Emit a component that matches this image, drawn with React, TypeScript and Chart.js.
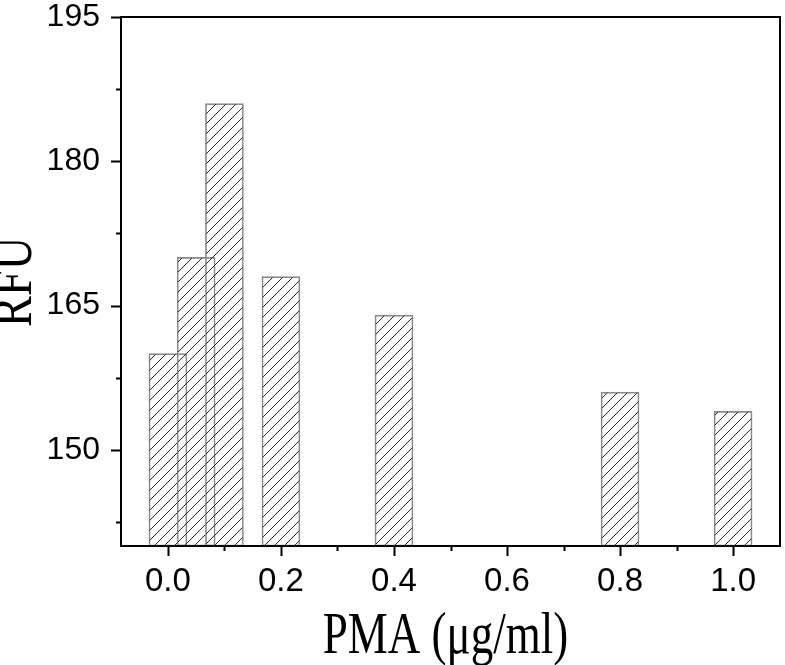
import React, { useEffect, useRef } from "react";
import { Chart, registerables } from "chart.js";
Chart.register(...registerables);

const doses = [0.0, 0.05, 0.1, 0.2, 0.4, 0.8, 1.0];
const rfu = [160, 170, 186, 168, 164, 156, 154];
const xMajorTicks = [0, 0.2, 0.4, 0.6, 0.8, 1.0];
const xMinorTicks = [0.1, 0.3, 0.5, 0.7, 0.9];
const yMajorTicks = [150, 165, 180, 195];
const yMinorTicks = [142.5, 157.5, 172.5, 187.5];
const xTitle = "PMA (μg/ml)";
const yTitle = "RFU";

function makeHatch(ctx: CanvasRenderingContext2D) {
  const s = 10;
  const tile = document.createElement("canvas");
  tile.width = s;
  tile.height = s;
  const t = tile.getContext("2d")!;
  t.strokeStyle = "#2a2a2a";
  t.lineWidth = 1;
  t.beginPath();
  t.moveTo(-1, s + 1);
  t.lineTo(s + 1, -1);
  t.moveTo(-2, 2);
  t.lineTo(2, -2);
  t.moveTo(s - 2, s + 2);
  t.lineTo(s + 2, s - 2);
  t.stroke();
  return ctx.createPattern(tile, "repeat")!;
}

const framePlugin = {
  id: "frameAndTitles",
  afterDraw(chart: any) {
    const { ctx, chartArea: a, scales } = chart;
    const xs = scales.x;
    const ys = scales.y;
    ctx.save();
    ctx.strokeStyle = "#000";
    ctx.lineWidth = 2;
    ctx.strokeRect(a.left, a.top, a.right - a.left, a.bottom - a.top);
    ctx.beginPath();
    for (const v of yMajorTicks) {
      const y = Math.round(ys.getPixelForValue(v)) + 0.5;
      ctx.moveTo(a.left - 10, y);
      ctx.lineTo(a.left, y);
    }
    for (const v of yMinorTicks) {
      const y = Math.round(ys.getPixelForValue(v)) + 0.5;
      ctx.moveTo(a.left - 5, y);
      ctx.lineTo(a.left, y);
    }
    for (const v of xMajorTicks) {
      const x = Math.round(xs.getPixelForValue(v)) + 0.5;
      ctx.moveTo(x, a.bottom);
      ctx.lineTo(x, a.bottom + 10);
    }
    for (const v of xMinorTicks) {
      const x = Math.round(xs.getPixelForValue(v)) + 0.5;
      ctx.moveTo(x, a.bottom);
      ctx.lineTo(x, a.bottom + 5);
    }
    ctx.stroke();
    ctx.restore();

    ctx.save();
    ctx.fillStyle = "#000";
    ctx.font = "45px 'Liberation Serif', 'Times New Roman', serif";
    ctx.textAlign = "center";
    ctx.textBaseline = "alphabetic";
    ctx.translate(445.5, 653);
    ctx.scale(1, 1.3);
    ctx.fillText(xTitle, 0, 0);
    ctx.restore();

    ctx.save();
    ctx.fillStyle = "#000";
    ctx.font = "44px 'Liberation Serif', 'Times New Roman', serif";
    ctx.textAlign = "center";
    ctx.textBaseline = "alphabetic";
    ctx.translate(31, 282);
    ctx.rotate(-Math.PI / 2);
    ctx.scale(1.06, 1.33);
    ctx.fillText(yTitle, 0, 0);
    ctx.restore();
  },
};

export default function App() {
  const ref = useRef<HTMLCanvasElement>(null);
  useEffect(() => {
    const canvas = ref.current!;
    const ctx = canvas.getContext("2d")!;
    const hatch = makeHatch(ctx);
    const family = "'Liberation Sans', Arial, sans-serif";
    const chart = new Chart(ctx, {
      type: "bar",
      data: {
        datasets: [
          {
            data: doses.map((d, i) => ({ x: d, y: rfu[i] })),
            backgroundColor: hatch,
            borderColor: "#8a8a8a",
            borderWidth: 1,
            borderSkipped: false,
            barThickness: 38,
            base: 140,
          } as any,
        ],
      },
      options: {
        animation: false,
        responsive: false,
        devicePixelRatio: 1,
        layout: { padding: { top: 17, right: 5, left: 0, bottom: 0 } },
        plugins: { legend: { display: false }, tooltip: { enabled: false } },
        scales: {
          x: {
            type: "linear",
            min: -0.083,
            max: 1.083,
            offset: false,
            grid: { display: false, drawTicks: false },
            border: { display: false },
            ticks: {
              font: { family, size: 33, lineHeight: 1 },
              color: "#000",
              padding: 19,
              maxRotation: 0,
              callback: (v: any) => Number(v).toFixed(1),
            },
            afterBuildTicks: (s: any) => {
              s.ticks = xMajorTicks.map((v) => ({ value: v }));
            },
            afterFit: (s: any) => {
              s.height = 119;
              s.paddingLeft = 0;
              s.paddingRight = 0;
            },
          },
          y: {
            type: "linear",
            min: 140,
            max: 195,
            grid: { display: false, drawTicks: false },
            border: { display: false },
            ticks: {
              font: { family, size: 32, lineHeight: 1 },
              color: "#000",
              padding: 21,
              callback: (v: any) => String(v),
            },
            afterBuildTicks: (s: any) => {
              s.ticks = yMajorTicks.map((v) => ({ value: v }));
            },
            afterFit: (s: any) => {
              s.width = 121;
              s.paddingTop = 0;
              s.paddingBottom = 0;
            },
          },
        },
      },
      plugins: [framePlugin],
    });
    return () => chart.destroy();
  }, []);
  return (
    <div style={{ position: "absolute", left: 0, top: 0, width: 785, height: 665, background: "#fff" }}>
      <canvas ref={ref} width={785} height={665} style={{ width: 785, height: 665 }} />
    </div>
  );
}
